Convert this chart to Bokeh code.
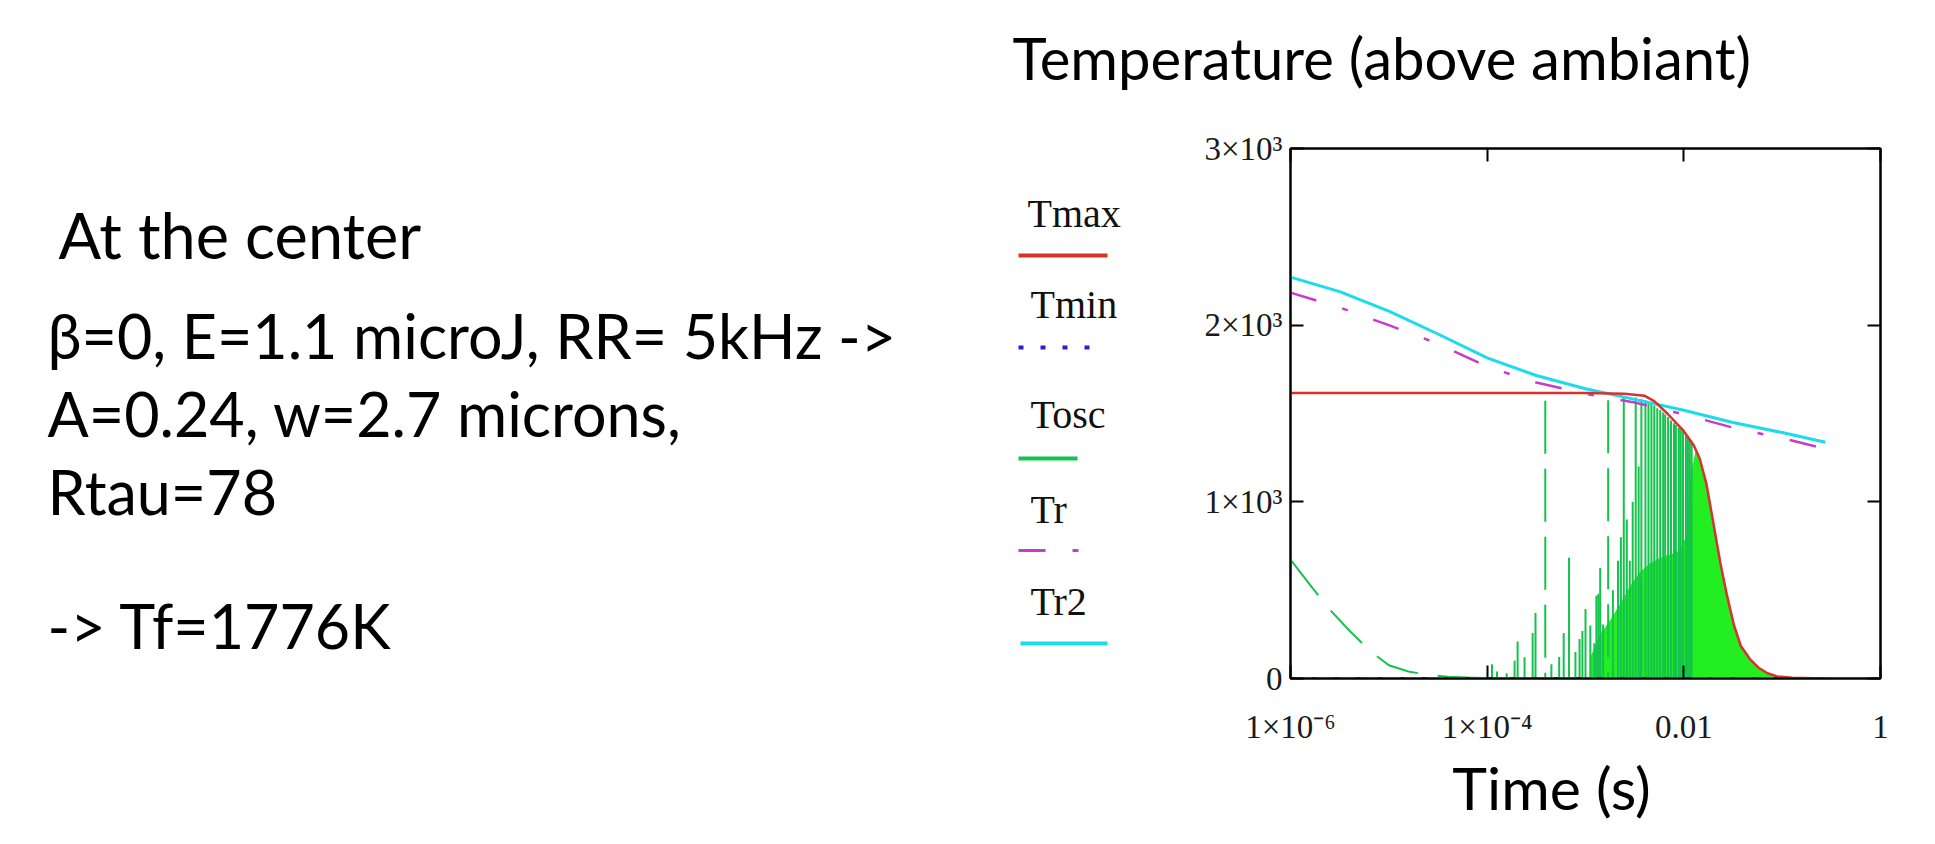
from bokeh.plotting import figure
from bokeh.models import FixedTicker, LinearAxis, LogAxis, Range1d
from bokeh.layouts import column, row
from bokeh.core.properties import value
from bokeh.embed import file_html
from bokeh.resources import INLINE

# ---------------- data ----------------
x_ticks = [1e-6, 1e-4, 1e-2, 1.0]
x_tick_labels = ["1×10⁻⁶", "1×10⁻⁴", "0.01", "1"]
y_ticks = [0, 1000, 2000, 3000]
y_tick_labels = ["0", "1×10³", "2×10³", "3×10³"]

legend_names = ["Tmax", "Tmin", "Tosc", "Tr", "Tr2"]

# Tmax (red)
tmax_t = [1e-6, 1e-3, 2.5e-3, 4.0e-3, 5.0e-3, 6.8e-3, 1.0e-2, 1.26e-2, 1.45e-2, 1.7e-2,
          2.0e-2, 2.34e-2, 2.75e-2, 3.24e-2, 3.8e-2, 4.7e-2, 5.75e-2, 7.1e-2, 8.9e-2, 0.126, 0.275]
tmax_v = [1616, 1616, 1612, 1600, 1570, 1500, 1400, 1320, 1245, 1100,
          878, 660, 469, 300, 184, 110, 61, 30, 12, 4, 0]

# Tmin (blue dotted)
tmin_t = [1e-6, 1e-4, 1e-2, 0.275]
tmin_v = [0, 0, 0, 0]

# Tr2 (cyan) and Tr (magenta)
tr_t = [1e-6, 3.16e-6, 1e-5, 3.16e-5, 1e-4, 3.16e-4, 1e-3, 3.16e-3, 1e-2, 3.16e-2, 0.1, 0.275]
tr2_v = [2272, 2190, 2080, 1950, 1815, 1715, 1640, 1580, 1518, 1449, 1392, 1337]
tr_v = [2184, 2100, 2000, 1895, 1765, 1675, 1612, 1562, 1495, 1420, 1360, 1300]

# Tosc (green): initial decay
tosc_decay_t = [1e-6, 1.58e-6, 2.51e-6, 3.98e-6, 6.31e-6, 1e-5, 1.58e-5, 2.51e-5, 3.98e-5, 6.31e-5, 1e-4, 2e-4]
tosc_decay_v = [673, 530, 390, 270, 160, 75, 40, 20, 10, 5, 3, 2]

# Tosc pulses: sampled spikes (time, peak)
spike_t = [1.12e-4, 1.26e-4, 1.58e-4, 1.9e-4, 2.04e-4, 2.4e-4, 2.9e-4, 3.1e-4, 4.5e-4, 5.4e-4,
           6.0e-4, 6.8e-4, 7.9e-4, 8.7e-4, 9.3e-4, 1.0e-3, 1.12e-3, 1.23e-3, 1.29e-3, 1.35e-3,
           1.41e-3, 1.51e-3, 1.9e-3, 2.14e-3, 2.29e-3, 2.63e-3, 2.82e-3, 3.02e-3, 3.47e-3, 3.63e-3,
           2.45e-3, 3.24e-3, 3.7e-3, 4.07e-3, 4.37e-3, 4.68e-3, 5.0e-3, 5.37e-3, 5.75e-3, 6.17e-3,
           6.46e-3, 6.92e-3, 7.41e-3, 7.94e-3, 8.3e-3, 8.9e-3, 9.3e-3, 9.8e-3, 1.05e-2, 1.1e-2,
           1.15e-2, 1.2e-2]
spike_v = [80, 40, 30, 100, 210, 120, 258, 371, 80, 122,
           258, 683, 150, 224, 269, 394, 300, 200, 469, 479,
           626, 306, 500, 666, 800, 900, 666, 1000, 1200, 567,
           1590, 1590, 1580, 1575, 1565, 1555, 1545, 1530, 1520, 1505,
           1495, 1480, 1460, 1445, 1435, 1420, 1410, 1400, 1385, 1370,
           1355, 1340]
# Tosc pulses drawn broken (dashed) in the reference
spike_dash_t = [3.9e-4, 1.7e-3]
spike_dash_v = [1572, 1575]

# Tosc dense (filled) region: upper envelope
fill_t = [1.12e-3, 1.41e-3, 1.78e-3, 2.24e-3, 2.82e-3, 3.55e-3, 4.47e-3, 5.62e-3, 7.08e-3, 8.9e-3,
          1.05e-2, 1.17e-2, 1.32e-2, 1.45e-2, 1.7e-2, 2.0e-2, 2.34e-2, 2.75e-2, 3.24e-2, 3.8e-2,
          4.7e-2, 5.75e-2, 7.1e-2, 8.9e-2, 0.126, 0.178, 0.263]
fill_v = [120, 250, 330, 420, 520, 600, 650, 680, 700, 720,
          800, 1150, 1290, 1245, 1100, 878, 660, 469, 300, 184,
          110, 61, 30, 12, 5, 2, 0]

left_lines = ["At the center", "β=0, E=1.1 microJ, RR= 5kHz ->", "A=0.24, w=2.7 microns,",
              "Rtau=78", "-> Tf=1776K"]
title_text = "Temperature (above ambiant)"
xlabel_text = "Time (s)"

# ---------------- colours / fonts ----------------
RED = "#D8322E"
BLUE = "#2424C8"
GREEN = "#14C24C"
LIME = "#22EE22"
MAGENTA = "#C83CC8"
CYAN = "#1CDCEC"
SANS = "Lato"
SERIF = "Liberation Serif"
BASE_SHIFT = 0.36    # the text glyph draws its "alphabetic" baseline this many em lower

# ---------------- page layout (pixels) ----------------
W, H = 1930, 840
TOP_H = 100          # strip holding the title
BOT_Y = 752          # strip holding the x-axis title starts here
SPLIT_X = 1150       # left panel (texts + legend) | chart panel
FL, FR, FT, FB = 1290, 1880, 148, 678     # chart frame edges on the page


def blank(w, y_top, y_bot, x0, border_top=0, border_bot=0):
    f = figure(width=w, height=(y_bot - y_top) + border_top + border_bot,
               x_range=Range1d(x0, x0 + w), y_range=Range1d(y_bot, y_top),
               output_backend="svg", toolbar_location=None, title=None,
               x_axis_location=None, y_axis_location=None,
               min_border_left=0, min_border_right=0,
               min_border_top=border_top, min_border_bottom=border_bot)
    f.grid.visible = False
    f.outline_line_color = None
    f.background_fill_color = "white"
    f.border_fill_color = "white"
    return f


def put_text(f, xs, bases, texts, font, size, align="left", color="black"):
    f.text(x=xs, y=[b - BASE_SHIFT * size for b in bases], text=texts, text_font=value(font),
           text_font_size=f"{size}px", text_color=color, text_baseline="alphabetic",
           text_align=align)


# --- title strip (page y 0..100)
top = blank(W, 0, TOP_H, 0)
put_text(top, [1012], [78], [title_text], SANS, 58)

# --- left panel (page y 100..752, its frame aligned with the chart frame 148..678)
left = blank(SPLIT_X, FT, FB, 0, FT - TOP_H, BOT_Y - FB)
left_x = [58, 47, 47, 47, 47]
left_base = [257, 357, 435, 513, 647]
left_size = [63, 61, 61, 61, 61]
for t, x, b, s in zip(left_lines, left_x, left_base, left_size):
    put_text(left, [x], [b], [t], SANS, s)

leg_x = [1027, 1030, 1030, 1030, 1030]
leg_base = [227, 318, 428, 523, 615]
put_text(left, leg_x, leg_base, legend_names, SERIF, 40, color="#111111")
left.segment(x0=[1018], y0=[255], x1=[1107], y1=[255], line_color=RED, line_width=4)
left.segment(x0=[1018], y0=[347], x1=[1090], y1=[347], line_color=BLUE, line_width=4, line_dash="5 17")
left.segment(x0=[1018], y0=[458], x1=[1077], y1=[458], line_color=GREEN, line_width=4)
left.segment(x0=[1018], y0=[550], x1=[1080], y1=[550], line_color=MAGENTA, line_width=3,
             line_dash="27 27 6 27")
left.segment(x0=[1020], y0=[643], x1=[1107], y1=[643], line_color=CYAN, line_width=4)

# --- chart panel
CW, CH = W - SPLIT_X, BOT_Y - TOP_H
p = figure(width=CW, height=CH, x_axis_type="log",
           x_range=Range1d(1e-6, 1.0), y_range=Range1d(0, 3000),
           output_backend="svg", toolbar_location=None, title=None,
           min_border_left=FL - SPLIT_X, min_border_right=W - FR,
           min_border_top=FT - TOP_H, min_border_bottom=BOT_Y - FB)
p.grid.visible = False
p.outline_line_color = "black"
p.outline_line_width = 2
p.background_fill_color = "white"
p.border_fill_color = "white"


def style_axis(ax, show_labels=True):
    ax.axis_line_color = "black"
    ax.axis_line_width = 2
    ax.major_tick_line_color = "black"
    ax.major_tick_line_width = 2
    ax.major_tick_in = 13
    ax.major_tick_out = 0
    ax.minor_tick_line_color = None
    ax.major_label_text_font = SERIF
    if show_labels:
        ax.major_label_text_font_size = "33px"
        ax.major_label_text_color = "#1a1a1a"
    else:
        ax.major_label_text_font_size = "8px"
        ax.major_label_text_alpha = 0
        ax.major_label_standoff = 0


xa = p.below[0]
xa.ticker = FixedTicker(ticks=x_ticks)
xa.major_label_overrides = dict(zip(x_ticks, x_tick_labels))
style_axis(xa)
xa.major_label_standoff = 30

ya = p.left[0]
ya.ticker = FixedTicker(ticks=y_ticks)
ya.major_label_overrides = dict(zip(y_ticks, y_tick_labels))
style_axis(ya)
ya.major_label_standoff = 8

ra = LinearAxis(ticker=FixedTicker(ticks=y_ticks))
style_axis(ra, False)
p.add_layout(ra, "right")
ta = LogAxis(ticker=FixedTicker(ticks=x_ticks))
style_axis(ta, False)
p.add_layout(ta, "above")

p.varea(x=fill_t, y1=[0] * len(fill_t), y2=fill_v, fill_color=LIME, fill_alpha=1)
p.segment(x0=spike_t, y0=spike_v, x1=spike_t, y1=[0] * len(spike_t),
          line_color=GREEN, line_width=2)
p.segment(x0=spike_dash_t, y0=spike_dash_v, x1=spike_dash_t, y1=[0] * len(spike_dash_t),
          line_color=GREEN, line_width=2, line_dash="53 15")
p.line(tosc_decay_t, tosc_decay_v, line_color=GREEN, line_width=2, line_dash="45 20")
p.line(tmin_t, tmin_v, line_color=BLUE, line_width=3, line_dash="4 18")
p.line(tr_t, tr_v, line_color=MAGENTA, line_width=2.5, line_dash="27 27 6 27")
p.line(tr_t, tr2_v, line_color=CYAN, line_width=3)
p.line(tmax_t, tmax_v, line_color=RED, line_width=2.5)

# --- x-axis title strip (page y 752..840)
bot = blank(W, BOT_Y, H, 0)
put_text(bot, [1551], [808], [xlabel_text], SANS, 59, align="center")

layout = column(top, row(left, p), bot)
open("out.html", "w").write(file_html(layout, INLINE))
